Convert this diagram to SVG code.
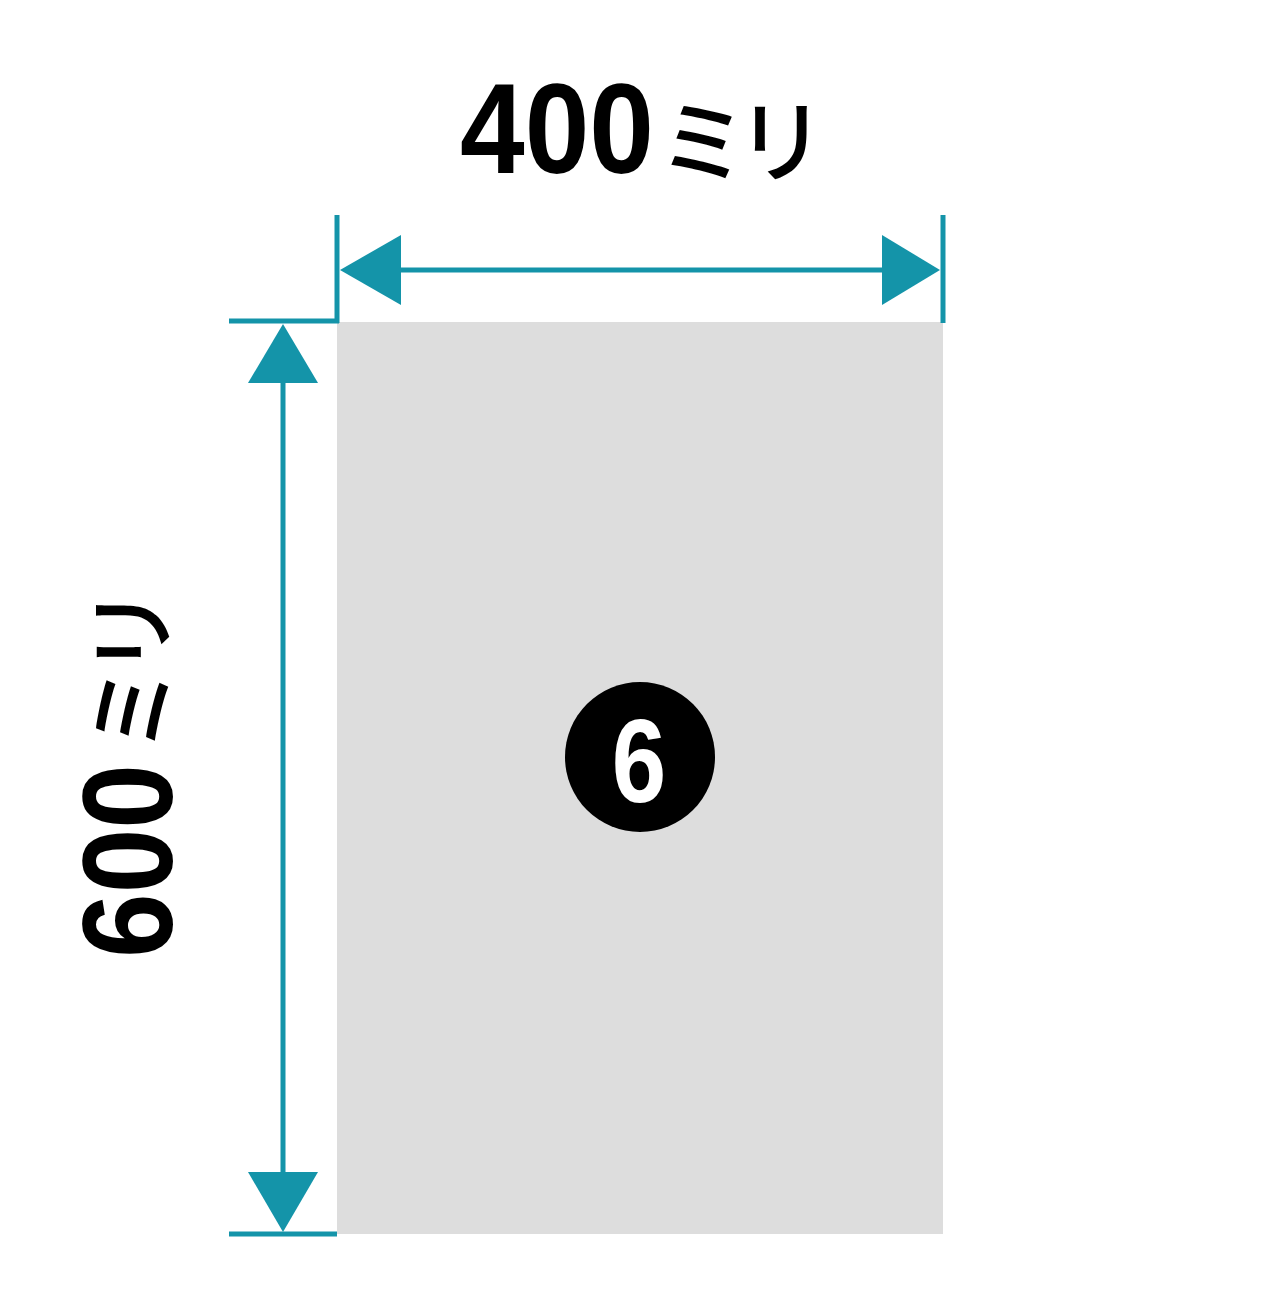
<svg xmlns="http://www.w3.org/2000/svg" width="1280" height="1309" viewBox="0 0 1280 1309">
<style>
.dim{stroke:#1494a9;stroke-width:5;fill:none;stroke-linecap:butt}
.head{fill:#1494a9}
.num{font-family:"Liberation Sans",Arial,sans-serif;font-weight:bold;fill:#000}
.kana{font-family:"Noto Sans CJK JP","Noto Sans",sans-serif;font-weight:500;fill:#000}
</style>
<rect width="1280" height="1309" fill="#ffffff"/>
<g id="panel">
<rect x="337" y="322" width="606" height="912" fill="#dddddd"/>
</g>
<g id="badge">
<circle cx="640" cy="757" r="75" fill="#000"/>
<text class="num" transform="translate(639,802) scale(0.83,1)" x="0" y="0" font-size="118" text-anchor="middle" style="fill:#fff">6</text>
</g>
<g id="connectors">
<line class="dim" x1="337" y1="215" x2="337" y2="323"/>
<line class="dim" x1="943" y1="215" x2="943" y2="323"/>
<line class="dim" x1="380" y1="270" x2="900" y2="270"/>
<polygon class="head" points="340,270 401,235 401,305"/>
<polygon class="head" points="940,270 882,235 882,305"/>
<line class="dim" x1="229" y1="321" x2="339" y2="321"/>
<line class="dim" x1="229" y1="1234" x2="337" y2="1234"/>
<line class="dim" x1="283" y1="370" x2="283" y2="1190"/>
<polygon class="head" points="283,324 248,383 318,383"/>
<polygon class="head" points="283,1232 248,1172 318,1172"/>
</g>
<g id="label-width">
<text class="num" x="460" y="173" font-size="128" textLength="194" lengthAdjust="spacingAndGlyphs">400</text>
<text class="kana" x="658" y="175" font-size="90" letter-spacing="-12">ミリ</text>
</g>
<g id="label-height">
<g transform="translate(172,953) rotate(-90)">
<text class="num" x="-5" y="0" font-size="128" textLength="194" lengthAdjust="spacingAndGlyphs">600</text>
<text class="kana" x="199" y="-7" font-size="90" letter-spacing="-12">ミリ</text>
</g>
</g>
</svg>
